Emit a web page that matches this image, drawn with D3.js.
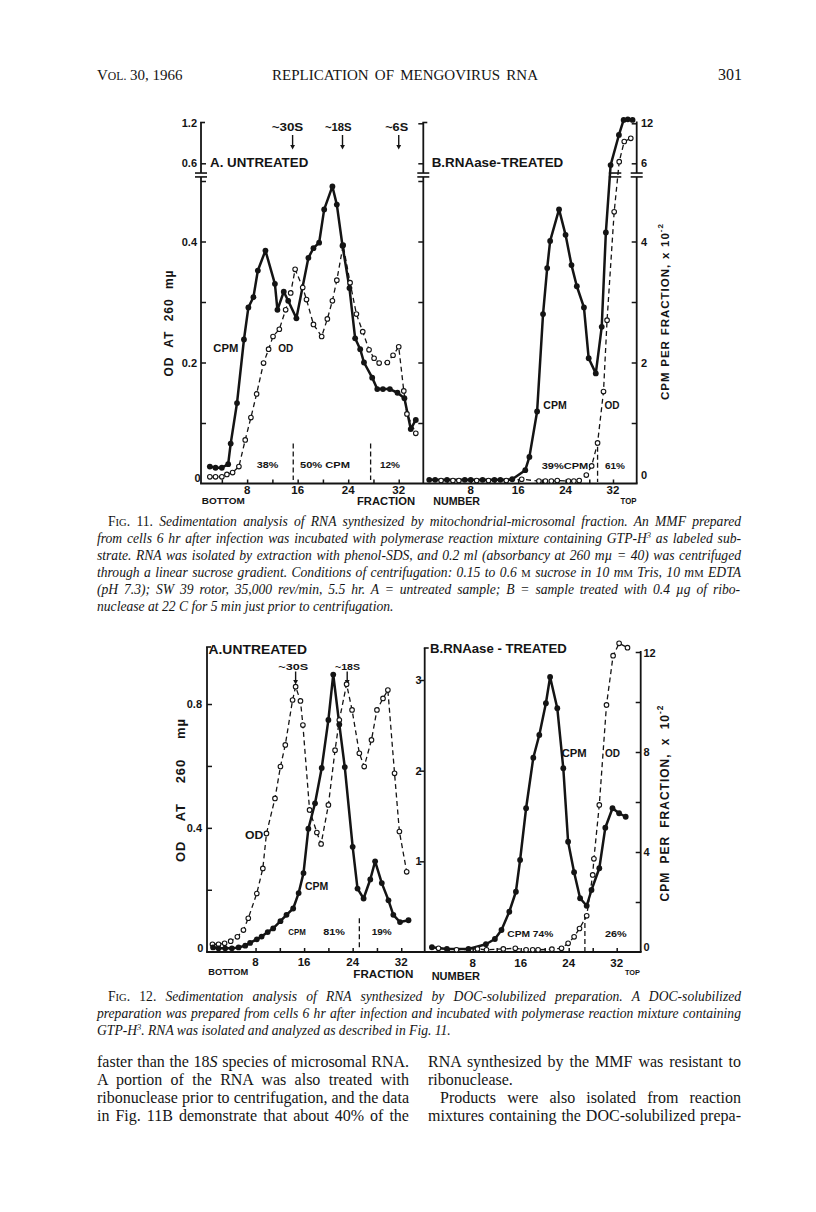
<!DOCTYPE html>
<html><head><meta charset="utf-8">
<script src="https://cdn.jsdelivr.net/npm/d3@7"></script>
<style>body{margin:0;background:#fff} svg{display:block} text{white-space:pre}</style>
</head><body><svg id="c" width="816" height="1212"></svg>
<script>
// ---------------- DATA ----------------
// Fig. 11A (untreated) — CPM x10^-2 and OD 260
const f11A_cpmFrac = [2.1,3.0,4.0,5.0,5.4,6.4,7.5,8.2,9.0,9.7,10.9,12.4,12.8,13.8,14.5,15.8,17.7,18.5,19.4,20.2,21.5,22.2,23.1,24.2,25.1,25.9,26.5,27.8,28.6,29.5,30.6,31.8,32.9,33.9,34.7];
const f11A_cpm     = [0.28,0.26,0.26,0.32,0.66,1.33,2.38,2.91,3.08,3.52,3.85,3.30,2.87,3.17,3.02,2.73,3.73,3.89,3.98,4.53,4.91,4.61,3.93,3.23,2.40,2.22,2.00,1.75,1.56,1.56,1.56,1.50,1.41,0.90,1.05];
const f11A_odFrac  = [2.1,3.0,4.0,4.8,5.7,6.7,7.7,8.6,9.5,10.6,11.4,12.1,13.1,14.1,14.9,15.6,16.8,17.4,18.5,19.8,20.7,21.5,22.2,23.2,24.3,25.3,26.3,27.3,28.1,28.9,30.2,31.1,32.0,32.8,33.3,34.7];
const f11A_od      = [0.011,0.011,0.011,0.015,0.018,0.028,0.072,0.109,0.148,0.199,0.222,0.243,0.255,0.287,0.315,0.354,0.324,0.304,0.263,0.243,0.272,0.302,0.336,0.394,0.332,0.280,0.251,0.221,0.207,0.199,0.200,0.212,0.226,0.153,0.115,0.083];
// Fig. 11B (RNAase-treated)
const f11B_cpmFrac = [1,2,4,7,8,10,12,13,15,17.2,17.9,19.2,20.2,20.9,21.4,22.9,24.0,25.0,25.9,27.1,27.9,29.1,30.1,30.8,31.6,33.0,33.8,34.5,35.3];
const f11B_cpm     = [0.06,0.06,0.06,0.06,0.06,0.06,0.06,0.06,0.07,0.22,0.44,1.19,2.80,3.56,4.01,4.53,4.11,3.61,3.26,2.91,2.07,1.82,2.59,4.15,5.9,10.25,12.5,12.6,12.5];
const f11B_odFrac  = [3,5,6,9,11,14,16.6,19.5,20.6,21.6,22.6,24.5,25.4,26.3,27.5,28.4,29.4,30.4,31.0,32.2,33.05,33.9,35.0];
const f11B_od      = [0.005,0.005,0.005,0.005,0.005,0.005,0.007,0.004,0.004,0.004,0.005,0.004,0.004,0.005,0.014,0.029,0.067,0.152,0.270,0.449,0.624,0.927,0.975];
// Fig. 12A (untreated) — CPM x10^3 (middle axis) and OD 260
const f12A_cpmFrac = [1.0,1.9,3.0,4.1,5.2,6.3,7.1,8.2,9.0,10.0,10.9,12.1,13.1,14.2,15.1,15.9,16.7,17.8,18.9,20.0,20.8,21.8,22.7,24.0,24.8,25.8,26.9,27.7,28.8,29.9,30.7,31.8,33.2];
const f12A_cpm     = [0.05,0.04,0.04,0.04,0.05,0.07,0.10,0.14,0.17,0.22,0.26,0.34,0.41,0.48,0.65,0.87,1.36,1.64,2.03,2.56,3.06,2.51,2.04,1.16,0.70,0.59,0.80,1.00,0.76,0.57,0.41,0.33,0.35];
const f12A_odFrac  = [0.9,1.9,2.9,3.9,5.0,6.0,6.8,8.2,9.2,9.8,11.2,12.1,12.9,14.1,14.6,15.4,15.8,16.9,18.1,18.8,20.0,21.1,21.8,23.0,23.9,25.1,25.9,27.1,28.0,29.0,29.8,30.9,31.7,32.9];
const f12A_od      = [0.024,0.024,0.027,0.034,0.048,0.070,0.108,0.188,0.269,0.382,0.495,0.598,0.668,0.813,0.856,0.810,0.732,0.458,0.385,0.348,0.474,0.651,0.748,0.864,0.781,0.641,0.598,0.684,0.781,0.818,0.845,0.576,0.388,0.258];
// Fig. 12B (RNAase-treated) — CPM x10^-2 (right axis) and OD 260
const f12B_cpmFrac = [1.2,3.7,7.3,10.2,11.7,12.8,14.1,15.2,15.9,16.9,18.1,19.1,20.2,20.9,22.1,23.1,23.9,24.9,25.9,27.0,27.8,29.1,30.1,31.3,32.4,33.5];
const f12B_cpm     = [0.19,0.12,0.12,0.31,0.52,0.88,1.61,2.41,3.68,5.75,7.77,8.68,9.95,11.0,9.75,7.35,4.41,3.19,2.15,1.85,2.48,3.35,4.97,5.75,5.55,5.41];
const f12B_odFrac  = [2.3,5.3,8.8,10.3,13.1,15.1,16.9,18.0,18.9,21.2,22.8,23.9,24.9,25.8,27.0,28.0,28.2,29.1,30.3,31.4,32.4,33.8];
const f12B_od      = [0.011,0.006,0.009,0.006,0.009,0.011,0.006,0.006,0.006,0.008,0.011,0.027,0.048,0.075,0.116,0.248,0.300,0.474,0.797,0.956,0.996,0.982];

// tick labels
const fracTicks = [8,16,24,32];
const fracTickLabels = ['8','16','24','32'];
const fracMinorTicks = [4,8,12,16,20,24,28,32];
const f11_odTicks = [0,0.2,0.4,0.6,1.2];
const f11_odTickLabels = ['0','0.2','0.4','0.6','1.2'];
const f11_cpmTicks = [0,2,4,6,12];
const f11_cpmTickLabels = ['0','2','4','6','12'];
const f12_odTicks = [0,0.4,0.8];
const f12_odTickLabels = ['0','0.4','0.8'];
const f12_cpmATicks = [1,2,3];
const f12_cpmATickLabels = ['1','2','3'];
const f12_cpmBTicks = [0,4,8,12];
const f12_cpmBTickLabels = ['0','4','8','12'];

// ---------------- SETUP ----------------
const INK = '#141414';
const SANS = '"Liberation Sans", Arial, Helvetica, sans-serif';
const SERIF = '"Liberation Serif", "Times New Roman", serif';
const svg = d3.select('#c');
svg.append('rect').attr('width',816).attr('height',1212).attr('fill','#fff');

// scales
const x11A = d3.scaleLinear().domain([0.7,36]).range([201,424]);
const x11B = d3.scaleLinear().domain([0,36]).range([423.3,636.7]);
const y11  = d3.scaleLinear().domain([0,5,6,12]).range([483.5,181,163.3,123.3]);      // CPM x10^-2
const y11od= d3.scaleLinear().domain([0,0.5,0.6,1.2]).range([483.5,181,163.3,123.3]); // OD
const x12A = d3.scaleLinear().domain([0,36]).range([207,425.5]);
const x12B = d3.scaleLinear().domain([0,36]).range([424.7,640.7]);
const y12od= d3.scaleLinear().domain([0,1]).range([951.7,642.1]);
const y12cA= d3.scaleLinear().domain([0,3]).range([952,680]);
const y12cB= d3.scaleLinear().domain([0,12]).range([952,652]);

// helpers
function txt(g, x, y, s, o={}) {
  const t = g.append('text').attr('x',x).attr('y',y).text(s)
    .attr('font-family', o.family||SANS).attr('font-size',o.size||10)
    .attr('font-weight', o.weight||'bold').attr('fill',INK)
    .attr('text-anchor',o.anchor||'start').attr('dominant-baseline','central');
  if (o.len) t.attr('textLength',o.len).attr('lengthAdjust',o.adj||'spacingAndGlyphs');
  return t;
}
function seg(g,x1,y1,x2,y2,w,dash){
  const l=g.append('line').attr('x1',x1).attr('y1',y1).attr('x2',x2).attr('y2',y2)
   .attr('stroke',INK).attr('stroke-width',w||1.8).attr('stroke-linecap','butt');
  if(dash) l.attr('stroke-dasharray',dash);
  return l;
}
function tickMarks(g, gen, scale, vals, size, tx, ty){
  const a = g.append('g').attr('transform',`translate(${tx},${ty})`)
    .call(gen(scale).tickValues(vals).tickSize(size).tickFormat(''));
  a.select('.domain').remove();
  a.selectAll('.tick text').remove();
  a.selectAll('.tick line').attr('stroke',INK).attr('stroke-width',1.5);
}
function vAxis(g, x, yTop, yBot, brk, stub){
  if (brk){
    seg(g,x,yTop,x,brk[0]); seg(g,x,brk[1],x,yBot);
    seg(g,x-6,brk[0],x+6,brk[0],1.6); seg(g,x-6,brk[1],x+6,brk[1],1.6);
  } else seg(g,x,yTop,x,yBot);
  if (stub) seg(g,x-0.9,yTop,x+stub,yTop,1.6);
}
function series(g, fr, vals, xS, yS, kind){
  const pts = fr.map((f,i)=>[xS(f), yS(vals[i])]);
  const cpm = kind==='cpm';
  g.append('path').attr('d', d3.line()(pts)).attr('fill','none').attr('stroke',INK)
    .attr('stroke-width', cpm?2.5:1.3).attr('stroke-linejoin','round')
    .attr('stroke-dasharray', cpm?null:'5,3.5');
  return pts;
}
function markers(g, pts, kind){
  const cpm = kind==='cpm';
  g.selectAll(null).data(pts).join('circle')
    .attr('cx',d=>d[0]).attr('cy',d=>d[1]).attr('r', cpm?2.9:2.3)
    .attr('fill', cpm?INK:'#fff').attr('stroke',INK).attr('stroke-width', cpm?0:1.1);
}
function arrow(g, x, y1, y2){
  seg(g,x,y1,x,y2-3,1.4);
  g.append('path').attr('d',`M${x-2.4},${y2-4.5}L${x+2.4},${y2-4.5}L${x},${y2}Z`).attr('fill',INK);
}
// rotated axis title: glyphs kept, extra room put into word gaps (plus a little letter spacing)
function rotLabel(g, x, y, parts, len, size){
  const t = g.append('text').attr('transform',`translate(${x},${y}) rotate(-90)`)
    .attr('font-family',SANS).attr('font-weight','bold').attr('font-size',size).attr('fill',INK)
    .attr('text-anchor','middle').attr('dominant-baseline','central').attr('letter-spacing',1);
  parts.forEach(([s,sup])=>{ const ts=t.append('tspan').text(s); if(sup) ts.attr('font-size',size*0.7).attr('baseline-shift','super'); });
  const nat = t.node().getComputedTextLength();
  const spaces = (parts.map(p=>p[0]).join('').match(/ /g)||[]).length;
  if (spaces && len > nat) t.attr('word-spacing', ((len-nat)/spaces).toFixed(2));
  else t.attr('textLength',len).attr('lengthAdjust','spacingAndGlyphs');
}

// ---------------- FIG 11 ----------------
const g11 = svg.append('g');
const brk11 = [y11(5.45), y11(5.23)];
vAxis(g11, x11A(0.7), 122.5, 483.5, brk11, 4);
vAxis(g11, x11B(0), 122.5, 483.5, brk11, 4);
vAxis(g11, x11B(36), 121.5, 483.5, brk11, 0);
seg(g11, x11A(0.7)-0.9, 483.5, x11B(36)+0.9, 483.5, 1.8);
tickMarks(g11, d3.axisRight, y11od, [0.1,0.2,0.3,0.4,0.5,0.6], 5, x11A(0.7), 0);
tickMarks(g11, d3.axisLeft, y11od, [0.1,0.2,0.3,0.4,0.5,0.6,1.2], 5, x11B(0), 0);
tickMarks(g11, d3.axisLeft, y11, [1,2,3,4,6,12], 5, x11B(36), 0);
tickMarks(g11, d3.axisTop, x11A, fracMinorTicks, 4, 0, 483.5);
tickMarks(g11, d3.axisTop, x11B, fracMinorTicks, 4, 0, 483.5);
f11_odTicks.forEach((v,i)=>txt(g11, v===0?200.5:197, y11od(v)-(v===0?5.5:0), f11_odTickLabels[i], {anchor:'end', size:11}));
f11_cpmTicks.forEach((v,i)=>txt(g11, 641, y11(v)-(v===0?8.5:0), f11_cpmTickLabels[i], {size:11}));
fracTicks.forEach((v,i)=>{ txt(g11, x11A(v), 489.5, fracTickLabels[i], {anchor:'middle', size:11.5}); txt(g11, x11B(v), 489.5, fracTickLabels[i], {anchor:'middle', size:11.5}); });
txt(g11, 223.3, 500.5, 'BOTTOM', {anchor:'middle', size:9, len:43});
txt(g11, 386, 500.5, 'FRACTION', {anchor:'middle', size:11, len:58});
txt(g11, 456.7, 500.5, 'NUMBER', {anchor:'middle', size:10.5, len:46.7});
txt(g11, 628.5, 500.5, 'TOP', {anchor:'middle', size:8.5, len:16});
rotLabel(g11, 169.3, 323, [['OD AT 260 m\u00b5']], 107, 12);
rotLabel(g11, 665, 311.5, [['CPM PER FRACTION, x 10'],['-2',true]], 177, 11.5);
txt(g11, 210, 163.3, 'A. UNTREATED', {size:12.5, len:98.3});
txt(g11, 431.7, 163.3, 'B.RNAase-TREATED', {size:12.5, len:131.6});
txt(g11, 287.5, 127.3, '~30S', {anchor:'middle', size:10, len:31.6});
txt(g11, 338.3, 127.3, '~18S', {anchor:'middle', size:10, len:26.7});
txt(g11, 396.7, 127.3, '~6S', {anchor:'middle', size:10, len:23});
arrow(g11, x11A(15.2), 135, 149.5);
arrow(g11, x11A(23.1), 135, 149.5);
arrow(g11, x11A(32.0), 135, 149.5);
txt(g11, 213.3, 348.3, 'CPM', {size:10, len:25});
txt(g11, 278.3, 348.3, 'OD', {size:10, len:15});
seg(g11, x11A(15.3), 443.5, x11A(15.3), 480, 1.3, '5,3');
seg(g11, x11A(27.55), 443.5, x11A(27.55), 480, 1.3, '5,3');
txt(g11, 256.7, 464.3, '38%', {size:9.5, len:21.6});
txt(g11, 300, 464.3, '50% CPM', {size:9.5, len:50});
txt(g11, 380, 464.3, '12%', {size:9.5, len:20});
txt(g11, 543.3, 405, 'CPM', {size:10, len:23.4});
txt(g11, 604.5, 405, 'OD', {size:10, len:15});
seg(g11, x11B(29.4), 446.7, x11B(29.4), 482, 1.3, '5,3');
txt(g11, 541.7, 465, '39%CPM', {size:9.5, len:46.6});
txt(g11, 605, 465, '61%', {size:9.5, len:20});
const p11Aod = series(g11, f11A_odFrac, f11A_od, x11A, y11od, 'od');
const p11Acpm = series(g11, f11A_cpmFrac, f11A_cpm, x11A, y11, 'cpm');
const p11Bod = series(g11, f11B_odFrac, f11B_od, x11B, y11od, 'od');
const p11Bcpm = series(g11, f11B_cpmFrac, f11B_cpm, x11B, y11, 'cpm');
markers(g11, p11Aod, 'od'); markers(g11, p11Acpm, 'cpm');
markers(g11, p11Bod, 'od'); markers(g11, p11Bcpm, 'cpm');
seg(g11, x11B(31.3), brk11[0], x11B(33.4), brk11[0], 1.6);
seg(g11, x11B(31.3), brk11[1], x11B(33.4), brk11[1], 1.6);

// ---------------- FIG 12 ----------------
const g12 = svg.append('g');
vAxis(g12, x12A(0), 647, 952, null, 4);
vAxis(g12, x12B(0), 648, 952, null, 4);
vAxis(g12, x12B(36), 651, 952, null, 0);
seg(g12, x12A(0)-0.9, 952, x12B(36)+0.9, 952, 1.8);
tickMarks(g12, d3.axisRight, y12od, [0.2,0.4,0.6,0.8], 5, x12A(0), 0);
tickMarks(g12, d3.axisLeft, y12cA, [1,2,3], 5, x12B(0), 0);
tickMarks(g12, d3.axisLeft, y12cB, [2,4,6,8,10,12], 5, x12B(36), 0);
tickMarks(g12, d3.axisTop, x12A, fracMinorTicks, 4, 0, 952);
tickMarks(g12, d3.axisTop, x12B, fracMinorTicks, 4, 0, 952);
f12_odTicks.forEach((v,i)=>txt(g12, v===0?203.3:202, y12od(v)-(v===0?4:0), f12_odTickLabels[i], {anchor:'end', size:11}));
f12_cpmATicks.forEach((v,i)=>txt(g12, 421.5, y12cA(v), f12_cpmATickLabels[i], {anchor:'end', size:11}));
f12_cpmBTicks.forEach((v,i)=>txt(g12, 643.5, y12cB(v)-(v===0?5:0)+(v===12?1.3:0), f12_cpmBTickLabels[i], {size:11}));
fracTicks.forEach((v,i)=>{ txt(g12, x12A(v), 961.5, fracTickLabels[i], {anchor:'middle', size:11.5}); txt(g12, x12B(v), 962.5, fracTickLabels[i], {anchor:'middle', size:11.5}); });
txt(g12, 228.3, 972, 'BOTTOM', {anchor:'middle', size:8.5, len:40});
txt(g12, 383.3, 973.5, 'FRACTION', {anchor:'middle', size:11, len:60});
txt(g12, 455.8, 975.7, 'NUMBER', {anchor:'middle', size:10.5, len:48.3});
txt(g12, 632.5, 972, 'TOP', {anchor:'middle', size:8, len:15});
rotLabel(g12, 180, 790, [['OD AT 260 m\u00b5']], 144, 13);
rotLabel(g12, 665, 803, [['CPM PER FRACTION, x 10'],['-2',true]], 197, 12);
txt(g12, 208.5, 650, 'A.UNTREATED', {size:12.5, len:98.4});
txt(g12, 430, 649, 'B.RNAase - TREATED', {size:12.5, len:136.7});
txt(g12, 293.3, 666.7, '~30S', {anchor:'middle', size:9.5, len:30});
txt(g12, 347.5, 666.7, '~18S', {anchor:'middle', size:9.5, len:25});
arrow(g12, x12A(14.6), 671.5, 684.5);
arrow(g12, x12A(23.1), 671.5, 684.5);
txt(g12, 245, 835, 'OD', {size:10, len:18.3});
txt(g12, 305, 886.7, 'CPM', {size:10, len:23.3});
txt(g12, 288.3, 931.7, 'CPM', {size:9, len:17.5});
txt(g12, 323.3, 931.7, '81%', {size:9.5, len:21.7});
seg(g12, x12A(25.1), 918.3, x12A(25.1), 950, 1.3, '5,3');
txt(g12, 371.7, 931.7, '19%', {size:9.5, len:20});
txt(g12, 561.7, 753.3, 'CPM', {size:10, len:25});
txt(g12, 605, 753.3, 'OD', {size:10, len:15});
txt(g12, 507.3, 933.3, 'CPM 74%', {size:9.5, len:46});
txt(g12, 605, 933.3, '26%', {size:9.5, len:21.7});
seg(g12, x12B(26.7), 915, x12B(26.7), 951, 1.3, '5,3');
const p12Aod = series(g12, f12A_odFrac, f12A_od, x12A, y12od, 'od');
const p12Acpm = series(g12, f12A_cpmFrac, f12A_cpm, x12A, y12cA, 'cpm');
const p12Bod = series(g12, f12B_odFrac, f12B_od, x12B, y12od, 'od');
const p12Bcpm = series(g12, f12B_cpmFrac, f12B_cpm, x12B, y12cB, 'cpm');
markers(g12, p12Aod, 'od'); markers(g12, p12Acpm, 'cpm');
markers(g12, p12Bod, 'od'); markers(g12, p12Bcpm, 'cpm');

// ---------------- PAGE TEXT ----------------
// justified lines: word spacing is widened so the line fills its measure
function line(x, y, segs, w, size){
  const t = svg.append('text').attr('x',x).attr('y',y).attr('font-family',SERIF)
    .attr('font-size',size).attr('fill',INK);
  segs.forEach(([s, st])=>{
    const ts = t.append('tspan').text(s);
    if (st.includes('i')) ts.attr('font-style','italic');
    if (st.includes('s')) ts.attr('font-size', size*0.78);
    if (st.includes('u')) ts.attr('font-size', size*0.62).attr('baseline-shift','super');
  });
  if (w) {
    const nat = t.node().getComputedTextLength();
    const spaces = (segs.map(s=>s[0]).join('').match(/ /g)||[]).length;
    const ws = spaces ? (w - nat)/spaces : 0;
    if (ws > -1.5) t.attr('word-spacing', ws.toFixed(2));
    else t.attr('textLength', w).attr('lengthAdjust','spacingAndGlyphs');
  }
  return t;
}
line(97, 80, [['V','r'],['OL.','s'],[' 30, 1966','r']], null, 15);
line(272, 80, [['REPLICATION OF MENGOVIRUS RNA','r']], 266, 15);
line(718, 80, [['301','r']], null, 16);
const cs = 13.6;
line(108, 526, [['F','r'],['IG','s'],['. 11. ','r'],['Sedimentation analysis of RNA synthesized by mitochondrial-microsomal fraction. An MMF prepared','i']], 633, cs);
line(97, 543, [['from cells 6 hr after infection was incubated with polymerase reaction mixture containing GTP-H','i'],['3','iu'],[' as labeled sub-','i']], 644, cs);
line(97, 560, [['strate. RNA was isolated by extraction with phenol-SDS, and 0.2 ml (absorbancy at 260 m\u00b5 = 40) was centrifuged','i']], 644, cs);
line(97, 577, [['through a linear sucrose gradient. Conditions of centrifugation: 0.15 to 0.6 ','i'],['M','s'],[' sucrose in 10 m','i'],['M','s'],[' Tris, 10 m','i'],['M','s'],[' EDTA','i']], 644, cs);
line(97, 594, [['(pH 7.3); SW 39 rotor, 35,000 rev/min, 5.5 hr. A = untreated sample; B = sample treated with 0.4 \u00b5g of ribo-','i']], 643, cs);
line(97, 610.5, [['nuclease at 22 C for 5 min just prior to centrifugation.','i']], null, cs);
line(108, 1001, [['F','r'],['IG','s'],['. 12. ','r'],['Sedimentation analysis of RNA synthesized by DOC-solubilized preparation. A DOC-solubilized','i']], 633, cs);
line(97, 1018, [['preparation was prepared from cells 6 hr after infection and incubated with polymerase reaction mixture containing','i']], 644, cs);
line(97, 1035, [['GTP-H','i'],['3','iu'],['. RNA was isolated and analyzed as described in Fig. 11.','i']], null, cs);
const bs = 16;
line(97, 1067, [['faster than the 18','r'],['S','i'],[' species of microsomal RNA.','r']], 312, bs);
line(97, 1085, [['A portion of the RNA was also treated with','r']], 312, bs);
line(97, 1103, [['ribonuclease prior to centrifugation, and the data','r']], 312, bs);
line(97, 1121, [['in Fig. 11B demonstrate that about 40% of the','r']], 312, bs);
line(428, 1067, [['RNA synthesized by the MMF was resistant to','r']], 313, bs);
line(428, 1085, [['ribonuclease.','r']], null, bs);
line(440, 1103, [['Products were also isolated from reaction','r']], 301, bs);
line(428, 1121, [['mixtures containing the DOC-solubilized prepa-','r']], 313, bs);
</script>
</body></html>
